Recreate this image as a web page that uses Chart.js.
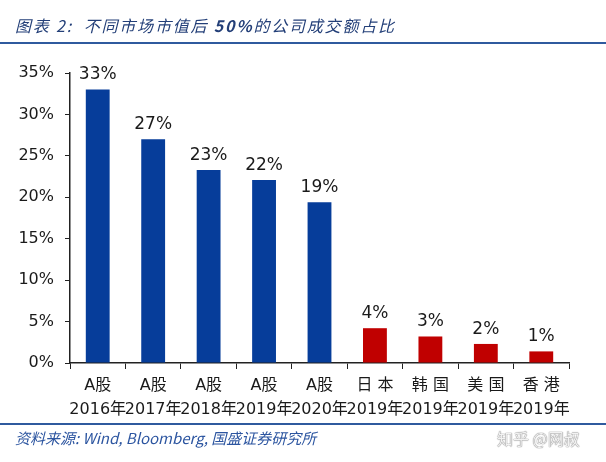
<!DOCTYPE html>
<html>
<head>
<meta charset="utf-8">
<script src="https://cdn.jsdelivr.net/npm/chart.js@4"></script>
<style>
  html, body { margin: 0; padding: 0; background: #fff; }
  #wrap { position: relative; width: 606px; height: 462px; overflow: hidden; }
  #chart { position: absolute; left: 0; top: 0; }
  .title {
    position: absolute; left: 15px; top: 13px;
    font-family: "Noto Sans CJK SC", "DejaVu Sans", sans-serif;
    font-style: italic; font-size: 16px; letter-spacing: 1.8px;
    color: #233f78; white-space: nowrap;
  }
  .title b { font-weight: bold; }
  .rule { position: absolute; left: 0; width: 606px; height: 2px; background: #2f5a9e; }
  .source {
    position: absolute; left: 15px; top: 427px;
    font-family: "Noto Sans CJK SC", "DejaVu Sans", sans-serif;
    font-style: italic; font-size: 15px; color: #2c55a0; white-space: nowrap;
  }
  .mark {
    position: absolute; left: 497px; top: 426px;
    font-family: "Noto Sans CJK SC", sans-serif; font-size: 16px;
    color: #f2f2f2; white-space: nowrap;
    text-shadow: 0 0 1px #777, 0 0 1px #777;
  }
</style>
</head>
<body>
<div id="wrap">
  <canvas id="chart" width="606" height="462"></canvas>
  <div class="title">图表 2:&nbsp; 不同市场市值后 <b>50%</b>的公司成交额占比</div>
  <div class="rule" style="top:42px"></div>
  <div class="rule" style="top:423px"></div>
  <div class="source">资料来源: Wind, Bloomberg, 国盛证券研究所</div>
  <div class="mark">知乎 @网叔</div>
</div>
<script>
// categories: market / year
var markets = ['A股', 'A股', 'A股', 'A股', 'A股', '日 本', '韩 国', '美 国', '香 港'];
var years = ['2016年', '2017年', '2018年', '2019年', '2020年', '2019年', '2019年', '2019年', '2019年'];
// turnover share of bottom 50% by market cap (%)
var shares = [33.0, 27.0, 23.3, 22.1, 19.4, 4.2, 3.2, 2.3, 1.4];
var shareLabels = ['33%', '27%', '23%', '22%', '19%', '4%', '3%', '2%', '1%'];
var yTicks = [0, 5, 10, 15, 20, 25, 30, 35];

var blue = '#063d9a';
var red = '#c00000';
var barColors = markets.map(function (m) { return m == 'A股' ? blue : red; });

var fontFamily = '"DejaVu Sans", "Noto Sans CJK SC", sans-serif';

// draws the value above each bar
var valueLabels = {
    id: 'valueLabels',
    afterDatasetsDraw: function (chart) {
        var ctx = chart.ctx;
        var meta = chart.getDatasetMeta(0);
        ctx.save();
        ctx.font = '17px ' + fontFamily;
        ctx.fillStyle = '#1a1a1a';
        ctx.textAlign = 'center';
        ctx.textBaseline = 'bottom';
        meta.data.forEach(function (bar, i) {
            ctx.fillText(shareLabels[i], bar.x, bar.y - 6);
        });
        ctx.restore();
    }
};

var ctx = document.getElementById('chart').getContext('2d');

new Chart(ctx, {
    type: 'bar',
    data: {
        labels: markets.map(function (m, i) { return [m, years[i]]; }),
        datasets: [{
            data: shares,
            backgroundColor: barColors,
            borderWidth: 0,
            barPercentage: 0.43,
            categoryPercentage: 1,
        }]
    },
    plugins: [valueLabels],
    options: {
        responsive: false,
        animation: false,
        devicePixelRatio: 1,
        layout: {
            padding: { left: 0, right: 37, top: 73, bottom: 39 },
        },
        plugins: {
            legend: { display: false },
            tooltip: { enabled: false },
        },
        scales: {
            x: {
                grid: {
                    offset: true,
                    drawOnChartArea: false,
                    drawTicks: true,
                    tickLength: 6,
                    tickColor: '#222',
                },
                border: { color: '#222', width: 1.5 },
                ticks: {
                    color: '#1a1a1a',
                    padding: 5,
                    maxRotation: 0,
                    autoSkip: false,
                    font: { family: fontFamily, size: 16, lineHeight: 1.5 },
                },
                afterFit: function (scale) { scale.height = 60; },
            },
            y: {
                min: 0,
                max: 35,
                afterBuildTicks: function (scale) {
                    scale.ticks = yTicks.map(function (v) { return { value: v }; });
                },
                grid: {
                    drawOnChartArea: false,
                    drawTicks: true,
                    tickLength: 5,
                    tickColor: '#222',
                },
                border: { color: '#222', width: 1.5 },
                ticks: {
                    color: '#1a1a1a',
                    padding: 11,
                    font: { family: fontFamily, size: 16 },
                    callback: function (value) { return value + '%'; },
                },
                afterFit: function (scale) { scale.width = 70; },
            }
        }
    }
});
</script>
</body>
</html>
